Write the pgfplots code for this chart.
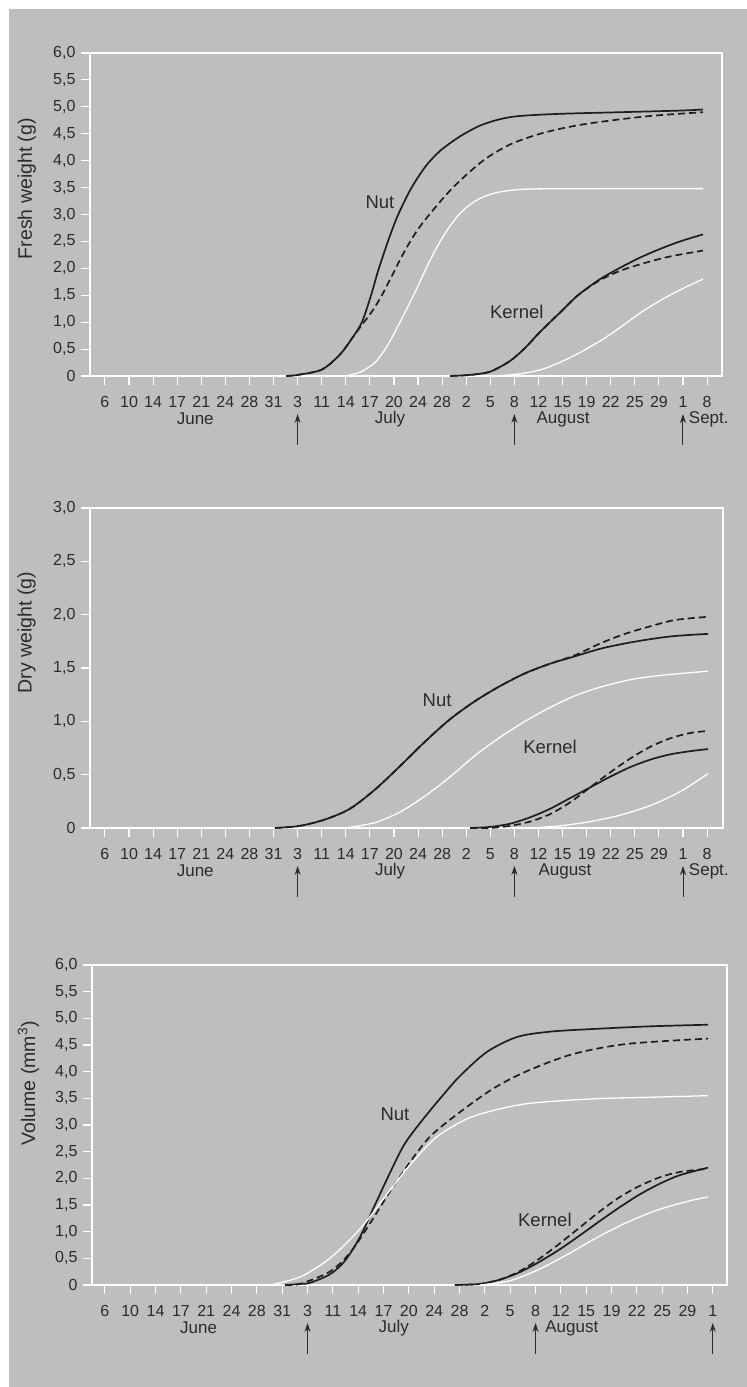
\documentclass[border=0pt]{standalone}
\usepackage{fontspec}
\setmainfont{Liberation Sans}
\usepackage{pgfplots}
\pgfplotsset{compat=1.18}
\usetikzlibrary{arrows.meta}
\definecolor{bg}{HTML}{BEBEBE}
\definecolor{txt}{HTML}{2B2B2B}
\definecolor{crv}{HTML}{1E1E1E}
\pgfplotsset{
  panel/.style={
    scale only axis,
    clip=false,
    axis line style={white, line width=1.3pt},
    tick style={white, line width=1.1pt},
    major tick length=9pt,
    tick align=outside,
    xtick pos=left, ytick pos=left,
    tick label style={font=\fontsize{16}{18}\selectfont, text=txt},
    xticklabel style={yshift=-8pt},
    yticklabel style={xshift=-2pt},
    /pgf/number format/assume math mode=true,
    ylabel style={font=\fontsize{19.5}{21}\selectfont, text=txt, anchor=center},
    xtick={0,...,25},
    ymin=0,
  },
  solidB/.style={crv, line width=1.7pt, smooth, tension=0.5, no marks},
  dashB/.style={crv, line width=1.7pt, dash pattern=on 7pt off 4pt, smooth, tension=0.5, no marks},
  whiteL/.style={white, line width=1.3pt, smooth, tension=0.5, no marks},
}
\tikzset{
  lab/.style={font=\fontsize{18.5}{20}\selectfont, text=txt},
  mon/.style={font=\fontsize{17}{19}\selectfont, text=txt},
  arr/.style={txt, line width=1pt, -{Stealth[length=9pt,width=6pt]}},
}
\begin{document}
\begin{tikzpicture}
\fill[white] (0pt,0pt) rectangle (747pt,1387pt);
\fill[bg] (9pt,0pt) rectangle (747pt,1378pt);

% ---------------- Top panel: fresh weight
\begin{axis}[panel,
  at={(90pt,1011pt)}, anchor=south west, width=632pt, height=323pt,
  xmin=-0.62, xmax=25.62, ymax=6,
  xticklabels={6,10,14,17,21,24,28,31,3,11,14,17,20,24,28,2,5,8,12,15,19,22,25,29,1,8},
  ytick={0,0.5,1,1.5,2,2.5,3,3.5,4,4.5,5,5.5,6},
  yticklabels={0,{0,5},{1,0},{1,5},{2,0},{2,5},{3,0},{3,5},{4,0},{4,5},{5,0},{5,5},{6,0}},
  ylabel={Fresh weight (g)},
  ylabel style={at={(axis description cs:-0.1,0.58)}},
]
\addplot[solidB] coordinates {(7.52,0) (8.01,0.02) (9.01,0.12) (9.76,0.4) (10.26,0.7) (10.67,1.0) (11.05,1.5) (11.34,1.95) (11.75,2.5) (12.13,2.95) (12.67,3.45) (13.29,3.88) (13.91,4.18) (14.74,4.45) (15.57,4.65) (16.40,4.77) (17.23,4.83) (18.90,4.87) (21.39,4.9) (23.88,4.93) (24.83,4.95)};
\addplot[dashB] coordinates {(7.52,0) (8.01,0.02) (9.01,0.12) (9.76,0.4) (10.26,0.7) (10.67,0.95) (11.09,1.2) (11.50,1.5) (11.96,1.9) (12.42,2.3) (12.96,2.7) (13.62,3.08) (14.49,3.52) (15.70,4.0) (16.82,4.3) (18.07,4.5) (19.31,4.63) (20.56,4.72) (22.63,4.83) (24.83,4.9)};
\addplot[whiteL] coordinates {(9.97,0) (10.59,0.07) (11.21,0.25) (11.71,0.55) (12.25,1.0) (12.92,1.6) (13.50,2.15) (14.08,2.62) (14.70,3.0) (15.37,3.25) (16.20,3.4) (17.48,3.47) (20.56,3.48) (24.83,3.48)};
\addplot[solidB] coordinates {(14.33,0) (15.16,0.02) (15.99,0.08) (16.82,0.28) (17.44,0.52) (18.07,0.82) (18.90,1.18) (19.64,1.5) (20.56,1.8) (21.43,2.02) (22.22,2.2) (23.05,2.36) (23.88,2.5) (24.83,2.63)};
\addplot[dashB] coordinates {(14.33,0) (15.16,0.02) (15.99,0.08) (16.82,0.28) (17.44,0.52) (18.07,0.82) (18.90,1.18) (19.64,1.5) (20.56,1.78) (21.43,1.96) (22.42,2.1) (23.46,2.22) (24.83,2.33)};
\addplot[whiteL] coordinates {(16.20,0) (17.23,0.04) (18.27,0.14) (19.44,0.37) (20.56,0.65) (21.39,0.9) (22.22,1.17) (23.05,1.4) (23.88,1.6) (24.83,1.8)};
\node[lab] at (axis cs:11.42,3.23) {Nut};
\node[lab] at (axis cs:17.1,1.19) {Kernel};
\node[mon] at ([yshift=-43pt]axis cs:3.75,0) {June};
\node[mon] at ([yshift=-43pt]axis cs:11.84,0) {July};
\node[mon] at ([yshift=-43pt]axis cs:19.02,0) {August};
\node[mon, anchor=west] at ([yshift=-43pt]axis cs:24.1,0) {Sept.};
\draw[arr] ([yshift=-69pt]axis cs:8,0) -- ([yshift=-38pt]axis cs:8,0);
\draw[arr] ([yshift=-69pt]axis cs:17,0) -- ([yshift=-38pt]axis cs:17,0);
\draw[arr] ([yshift=-69pt]axis cs:24,0) -- ([yshift=-38pt]axis cs:24,0);
\end{axis}

% ---------------- Middle panel: dry weight
\begin{axis}[panel,
  at={(90pt,559pt)}, anchor=south west, width=633pt, height=320pt,
  xmin=-0.62, xmax=25.66, ymax=3,
  xticklabels={6,10,14,17,21,24,28,31,3,11,14,17,20,24,28,2,5,8,12,15,19,22,25,29,1,8},
  ytick={0,0.5,1,1.5,2,2.5,3},
  yticklabels={0,{0,5},{1,0},{1,5},{2,0},{2,5},{3,0}},
  ylabel={Dry weight (g)},
  ylabel style={at={(axis description cs:-0.1,0.61)}},
]
\addplot[solidB] coordinates {(7.06,0) (8.10,0.02) (9.14,0.08) (10.17,0.18) (11.21,0.36) (12.25,0.58) (13.29,0.81) (14.33,1.02) (15.37,1.19) (16.40,1.33) (17.44,1.45) (18.48,1.54) (19.52,1.61) (20.56,1.68) (21.59,1.73) (22.63,1.77) (23.67,1.8) (25.04,1.82)};
\addplot[dashB] coordinates {(7.06,0) (8.10,0.02) (9.14,0.08) (10.17,0.18) (11.21,0.36) (12.25,0.58) (13.29,0.81) (14.33,1.02) (15.37,1.19) (16.40,1.33) (17.44,1.45) (18.48,1.54) (19.52,1.62) (20.56,1.73) (21.59,1.82) (22.63,1.89) (23.67,1.95) (25.04,1.98)};
\addplot[whiteL] coordinates {(9.97,0) (11.21,0.05) (12.25,0.15) (13.29,0.3) (14.33,0.48) (15.37,0.68) (16.40,0.85) (17.44,1.0) (18.48,1.13) (19.52,1.24) (20.56,1.32) (21.80,1.39) (23.05,1.43) (25.04,1.47)};
\addplot[solidB] coordinates {(15.16,0) (15.99,0.01) (16.82,0.04) (17.65,0.1) (18.48,0.18) (19.31,0.28) (20.14,0.38) (20.97,0.48) (21.80,0.57) (22.63,0.64) (23.46,0.69) (24.29,0.72) (25.04,0.74)};
\addplot[dashB] coordinates {(15.16,0) (15.99,0.0) (16.82,0.02) (17.65,0.06) (18.48,0.13) (19.31,0.24) (20.14,0.38) (20.97,0.52) (21.80,0.65) (22.63,0.76) (23.46,0.84) (24.29,0.89) (25.04,0.91)};
\addplot[whiteL] coordinates {(17.65,0) (18.90,0.02) (20.14,0.06) (21.39,0.12) (22.63,0.21) (23.88,0.34) (25.04,0.51)};
\node[lab] at (axis cs:13.79,1.2) {Nut};
\node[lab] at (axis cs:18.48,0.76) {Kernel};
\node[mon] at ([yshift=-43pt]axis cs:3.75,0) {June};
\node[mon] at ([yshift=-43pt]axis cs:11.84,0) {July};
\node[mon] at ([yshift=-43pt]axis cs:19.1,0) {August};
\node[mon, anchor=west] at ([yshift=-43pt]axis cs:24.1,0) {Sept.};
\draw[arr] ([yshift=-69pt]axis cs:8,0) -- ([yshift=-38pt]axis cs:8,0);
\draw[arr] ([yshift=-69pt]axis cs:17,0) -- ([yshift=-38pt]axis cs:17,0);
\draw[arr] ([yshift=-69pt]axis cs:24,0) -- ([yshift=-38pt]axis cs:24,0);
\end{axis}

% ---------------- Bottom panel: volume
\begin{axis}[panel,
  at={(92pt,102pt)}, anchor=south west, width=635pt, height=320pt,
  xmin=-0.51, xmax=24.56, ymax=6,
  xtick={0,...,24},
  xticklabels={6,10,14,17,21,24,28,31,3,11,14,17,20,24,28,2,5,8,12,15,19,22,25,29,1},
  ytick={0,0.5,1,1.5,2,2.5,3,3.5,4,4.5,5,5.5,6},
  yticklabels={0,{0,5},{1,0},{1,5},{2,0},{2,5},{3,0},{3,5},{4,0},{4,5},{5,0},{5,5},{6,0}},
  ylabel={Volume (mm\textsuperscript{3})},
  ylabel style={at={(axis description cs:-0.1,0.63)}},
]
\addplot[solidB] coordinates {(7.11,0) (7.70,0.02) (8.09,0.04) (8.88,0.2) (9.47,0.45) (10.07,0.9) (10.66,1.5) (11.25,2.1) (11.84,2.65) (12.63,3.15) (13.42,3.6) (14.02,3.92) (15.08,4.37) (16.27,4.65) (17.57,4.75) (19.27,4.8) (21.52,4.85) (23.81,4.88)};
\addplot[dashB] coordinates {(7.11,0) (7.70,0.02) (8.88,0.25) (9.67,0.6) (10.46,1.15) (11.25,1.75) (12.04,2.3) (12.83,2.78) (13.90,3.2) (15.32,3.68) (16.66,4.01) (18.48,4.33) (20.61,4.52) (23.81,4.62)};
\addplot[whiteL] coordinates {(6.51,0) (7.70,0.15) (8.88,0.5) (10.07,1.05) (11.05,1.65) (12.04,2.25) (13.03,2.75) (14.02,3.05) (14.92,3.22) (16.66,3.4) (19.27,3.49) (21.52,3.52) (23.81,3.55)};
\addplot[solidB] coordinates {(13.82,0) (14.80,0.02) (15.59,0.1) (16.38,0.24) (17.17,0.44) (17.96,0.67) (18.75,0.93) (19.54,1.2) (20.33,1.46) (21.12,1.7) (21.91,1.9) (22.70,2.06) (23.81,2.2)};
\addplot[dashB] coordinates {(13.82,0) (14.80,0.02) (15.59,0.1) (16.38,0.26) (17.17,0.5) (17.96,0.78) (18.75,1.08) (19.54,1.38) (20.33,1.65) (21.12,1.86) (21.91,2.02) (22.70,2.12) (23.81,2.18)};
\addplot[whiteL] coordinates {(14.80,0) (15.99,0.08) (17.17,0.3) (18.36,0.6) (19.54,0.92) (20.73,1.2) (21.91,1.42) (23.10,1.58) (23.81,1.65)};
\node[lab] at (axis cs:11.45,3.2) {Nut};
\node[lab] at (axis cs:17.37,1.23) {Kernel};
\node[mon] at ([yshift=-43pt]axis cs:3.7,0) {June};
\node[mon] at ([yshift=-43pt]axis cs:11.4,0) {July};
\node[mon, anchor=west] at ([yshift=-43pt]axis cs:17.25,0) {August};
\draw[arr] ([yshift=-69pt]axis cs:8,0) -- ([yshift=-38pt]axis cs:8,0);
\draw[arr] ([yshift=-69pt]axis cs:17,0) -- ([yshift=-38pt]axis cs:17,0);
\draw[arr] ([yshift=-69pt]axis cs:24,0) -- ([yshift=-38pt]axis cs:24,0);
\end{axis}
\end{tikzpicture}
\end{document}
